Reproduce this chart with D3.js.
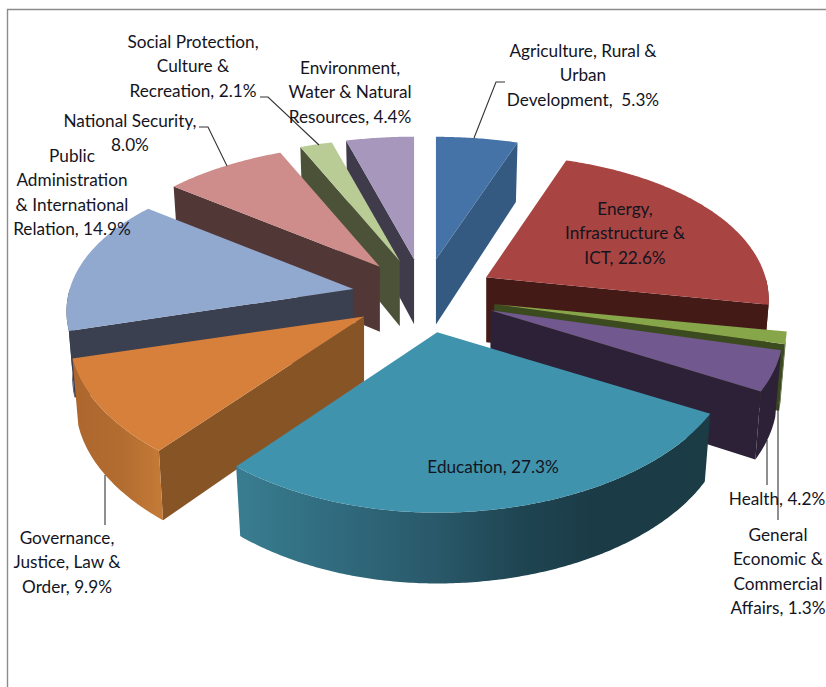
<!DOCTYPE html>
<html>
<head>
<meta charset="utf-8">
<script src="https://cdn.jsdelivr.net/npm/d3@7/dist/d3.min.js"></script>
<style>
  html, body { margin: 0; padding: 0; background: #fff; overflow: hidden; }
  text { font-family: Lato, "Open Sans", sans-serif; font-size: 17.2px; fill: #14141e; text-anchor: middle; }
</style>
</head>
<body>
<svg id="chart" width="826" height="687"></svg>
<script>
// Budget shares by sector, clockwise from twelve o'clock.
const categories = ["Agriculture", "Energy", "General Economic", "Health", "Education",
  "Governance", "Public Administration", "National Security", "Social Protection", "Environment"];
const shares = [5.3, 22.6, 1.3, 4.2, 27.3, 9.9, 14.9, 8.0, 2.1, 4.4];
const topColors = ["#4673a7", "#a84442", "#87a64a", "#71588f", "#3f93ad",
  "#d6803b", "#91a8cf", "#ce8c8a", "#b9cc95", "#a797bc"];
const sideColors = ["#345a82", "#441a17", "#3c4a1f", "#2c2136", "#1b3c47",
  "#875426", "#3b4050", "#523737", "#4b5238", "#3f3b4b"];

// Label lines; the value is appended to the last line of each.
const labelLines = [
  ["Agriculture, Rural &", "Urban", "Development,  "],
  ["Energy,", "Infrastructure &", "ICT, "],
  ["General", "Economic &", "Commercial", "Affairs, "],
  ["Health, "],
  ["Education, "],
  ["Governance,", "Justice, Law &", "Order, "],
  ["Public", "Administration", "& International", "Relation, "],
  ["National Security,", ""],
  ["Social Protection,", "Culture &", "Recreation, "],
  ["Environment,", "Water & Natural", "Resources, "]
];
// Centre x and first-line centre y of each label block.
const labelAnchors = [[583, 51], [625, 209], [778, 535], [777, 499], [493, 467],
  [67, 538], [72, 156], [130, 121], [193, 42], [350, 68]];
const lineStep = 24.5;

// Leader lines joining outside labels to their slices.
const leaders = [
  [[474, 138], [496, 82], [505, 82]],
  [[778, 405], [778, 520]],
  [[767, 440], [767, 485]],
  [[105, 475], [105, 525]],
  [[227, 166], [208, 127], [199, 127]],
  [[319, 145], [268, 97], [260, 97]]
];

// Perspective model of the tilted, exploded pie.
const centre = { x: 424, y: 296 };
const explode = { x: 72, y: 37 };
const radiusX = 285, radiusY = 146, perspX = 0.15, perspY = 0.19;
const thickness = 65, thicknessGrow = 0.09, bottomShrink = 0.98;
// Per-slice horizontal correction of the rim, right and left of the apex.
const stretchRight = [1, 0.98, 1.015, 1.015, 1.025, 1, 1, 1, 1, 1];
const stretchLeft = [1, 1, 1, 1, 1, 1.02, 0.995, 1, 1, 1];

const svg = d3.select("#chart");

const dirOf = a => ({ u: Math.sin(a), v: -Math.cos(a) });
const topPoint = (s, a) => {
  const { u, v } = dirOf(a);
  const stretch = u >= 0 ? stretchRight[s.i] : stretchLeft[s.i];
  return { x: s.apex.x + stretch * radiusX * u / (1 - perspX * v),
           y: s.apex.y + radiusY * v / (1 - perspY * v), v };
};
const lowerPoint = (s, p) => ({
  x: s.apex.x + (p.x - s.apex.x) * bottomShrink,
  y: p.y + thickness * (1 + thicknessGrow * p.v)
});
const outline = d3.line().x(d => d.x).y(d => d.y);
const arcPoints = (s, a0, a1) => {
  const n = Math.max(2, Math.ceil(Math.abs(a1 - a0) / 0.01));
  return d3.range(n + 1).map(i => topPoint(s, a0 + (a1 - a0) * i / n));
};

// Rim shading of the two large front slices.
const defs = svg.append("defs");
const rimGradient = (id, x1, x2, stops) => {
  const g = defs.append("linearGradient").attr("id", id)
    .attr("gradientUnits", "userSpaceOnUse")
    .attr("x1", x1).attr("x2", x2).attr("y1", 0).attr("y2", 0);
  stops.forEach(([o, c]) => g.append("stop").attr("offset", o).attr("stop-color", c));
};
rimGradient("rim-Education", 236, 709, [[0, "#3a7d91"], [0.16, "#326f82"], [0.42, "#29596a"],
  [0.6, "#1f4552"], [0.75, "#1b3c47"], [1, "#1b3b45"]]);
rimGradient("rim-Governance", 72, 160, [[0, "#ad672e"], [0.55, "#b26c30"], [1, "#c47a37"]]);

// Frame on the top and left of the chart area.
svg.append("path").attr("d", "M7.5,687V9.5H826")
  .attr("fill", "none").attr("stroke", "#8c8c8c").attr("stroke-width", 1.4);

const slices = d3.pie().sort(null).value(d => d)(shares).map((d, i) => {
  const mid = (d.startAngle + d.endAngle) / 2, dir = dirOf(mid);
  return { i, name: categories[i], a0: d.startAngle, a1: d.endAngle, midV: dir.v,
    apex: { x: centre.x + explode.x * dir.u, y: centre.y + explode.y * dir.v } };
});

// Paint back to front so that nearer slices cover farther ones.
slices.slice().sort((p, q) => d3.ascending(p.midV, q.midV)).forEach(s => {
  const g = svg.append("g").attr("class", "slice");
  const side = sideColors[s.i];
  const apexLow = { x: s.apex.x, y: s.apex.y + thickness };

  // Radial wall, drawn only when it faces the viewer.
  [[s.a0, -Math.PI / 2], [s.a1, Math.PI / 2]].forEach(([a, turn]) => {
    if (dirOf(a + turn).v <= 0.02) return;
    const rim = topPoint(s, a);
    g.append("path").attr("fill", side)
      .attr("d", outline([s.apex, rim, lowerPoint(s, rim), apexLow]) + "Z");
  });

  // Curved outer wall on the near half of the ellipse.
  const from = Math.max(s.a0, Math.PI / 2), to = Math.min(s.a1, Math.PI * 1.5);
  if (to > from) {
    const upper = arcPoints(s, from, to);
    const lower = upper.map(p => lowerPoint(s, p)).reverse();
    const shaded = s.name === "Education" || s.name === "Governance";
    g.append("path").attr("fill", shaded ? `url(#rim-${s.name})` : side)
      .attr("d", outline(upper.concat(lower)) + "Z");
  }

  // Top face.
  g.append("path").attr("fill", topColors[s.i])
    .attr("d", outline([s.apex, ...arcPoints(s, s.a0, s.a1)]) + "Z");
});

// Leader lines.
svg.append("g").selectAll("path").data(leaders).join("path")
  .attr("d", d3.line())
  .attr("fill", "none").attr("stroke", "#333").attr("stroke-width", 1.1);

// Labels.
const labelGroup = svg.append("g");
labelLines.forEach((lines, i) => {
  const [cx, cy] = labelAnchors[i];
  lines.forEach((line, k) => {
    const content = k === lines.length - 1 ? `${line}${shares[i].toFixed(1)}%` : line;
    labelGroup.append("text").attr("x", cx).attr("y", cy + k * lineStep)
      .attr("dy", "0.34em").attr("xml:space", "preserve").text(content);
  });
});
</script>
</body>
</html>
